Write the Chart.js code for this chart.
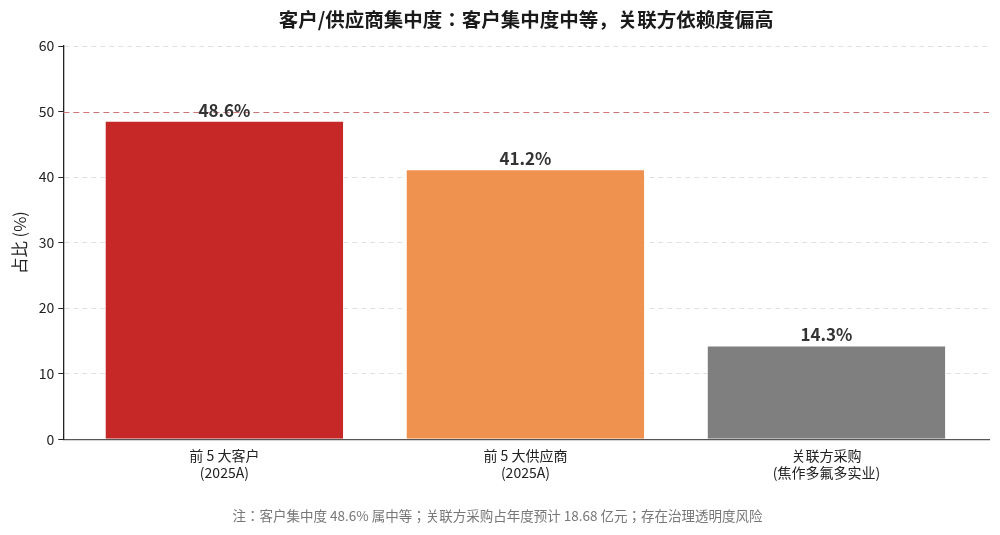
<!DOCTYPE html>
<html>
<head>
<meta charset="utf-8">
<script src="https://cdn.jsdelivr.net/npm/chart.js@4.4.1/dist/chart.umd.min.js"></script>
<style>
  html,body{margin:0;padding:0;background:#fff;}
  #wrap{width:1000px;height:535px;}
</style>
</head>
<body>
<div id="wrap"><canvas id="c"></canvas></div>
<script>
/* chart data */
const categories = [["前 5 大客户","(2025A)"],["前 5 大供应商","(2025A)"],["关联方采购","(焦作多氟多实业)"]];
const values = [48.6, 41.2, 14.3];
const barColors = ["#c62828","#ef914f","#7f7f7f"];
const yTicks = [0,10,20,30,40,50,60];
const refLine = 50;

const FONT = "'Noto Sans CJK JP','Noto Sans',sans-serif";
const TITLE = "客户/供应商集中度：客户集中度中等，关联方依赖度偏高";
const NOTE = "注：客户集中度 48.6% 属中等；关联方采购占年度预计 18.68 亿元；存在治理透明度风险";

// title over plot area + reference line + value labels
const extras = {
  id:"extras",
  afterDatasetsDraw(chart){
    const {ctx, chartArea:a, scales:{y}} = chart;
    const py = Math.round(y.getPixelForValue(refLine)) + 0.5;
    ctx.save();
    ctx.strokeStyle = "#d27476";
    ctx.lineWidth = 1.2;
    ctx.setLineDash([6,4]);
    ctx.beginPath(); ctx.moveTo(a.left, py); ctx.lineTo(a.right, py); ctx.stroke();
    ctx.setLineDash([]);

    ctx.fillStyle = "#1a1a1a";
    ctx.font = "bold 19.5px " + FONT;
    ctx.textAlign = "center"; ctx.textBaseline = "middle";
    ctx.fillText(TITLE, (a.left+a.right)/2, 20);
    ctx.font = "bold 17px " + FONT;
    ctx.fillStyle = "#333";
    ctx.textBaseline = "bottom";
    chart.getDatasetMeta(0).data.forEach((bar,i)=>{
      ctx.fillText(values[i].toFixed(1)+"%", bar.x, bar.y-2);
    });
    ctx.restore();
  }
};

new Chart(document.getElementById("c"), {
  type:"bar",
  data:{
    datasets:[{
      data: values.map((v,i)=>({x:i, y:v})),
      backgroundColor: barColors,
      borderColor: "rgba(255,255,255,0.7)",
      borderWidth: 1,
      categoryPercentage: 1,
      barPercentage: 0.795
    }]
  },
  options:{
    responsive:true, maintainAspectRatio:false, animation:false,
    layout:{padding:{top:46,right:11,left:6,bottom:0}},
    plugins:{
      legend:{display:false},
      tooltip:{enabled:false},
      title:{display:false},
      subtitle:{
        display:true, position:"bottom", text:NOTE, color:"#777",
        font:{family:FONT, size:13.5}, padding:{top:24,bottom:11}
      }
    },
    scales:{
      x:{
        type:"linear", min:-0.535, max:2.54, offset:false,
        afterBuildTicks(s){ s.ticks = categories.map((c,i)=>({value:i})); },
        ticks:{
          callback:(v)=>categories[v], color:"#222", autoSkip:false, maxRotation:0,
          font:{family:FONT, size:14, lineHeight:1.2}, padding:3
        },
        grid:{display:false, drawTicks:true, tickLength:5, tickColor:"#333"},
        border:{display:true, color:"#555", width:1.3}
      },
      y:{
        min:0, max:60,
        afterBuildTicks(s){ s.ticks = yTicks.map(v=>({value:v})); },
        ticks:{color:"#222", font:{family:FONT, size:14}, padding:4},
        title:{display:true, text:"占比 (%)", color:"#222", font:{family:FONT, size:16.5}, padding:{bottom:5}},
        grid:{
          color:(c)=> c.tick && c.tick.value===refLine ? "rgba(0,0,0,0)" : "rgba(0,0,0,0.12)",
          tickColor:"#222", tickLength:5, drawTicks:true
        },
        border:{display:true, color:"#222", width:1.3, dash:[5,4]}
      }
    }
  },
  plugins:[extras]
});
</script>
</body>
</html>
